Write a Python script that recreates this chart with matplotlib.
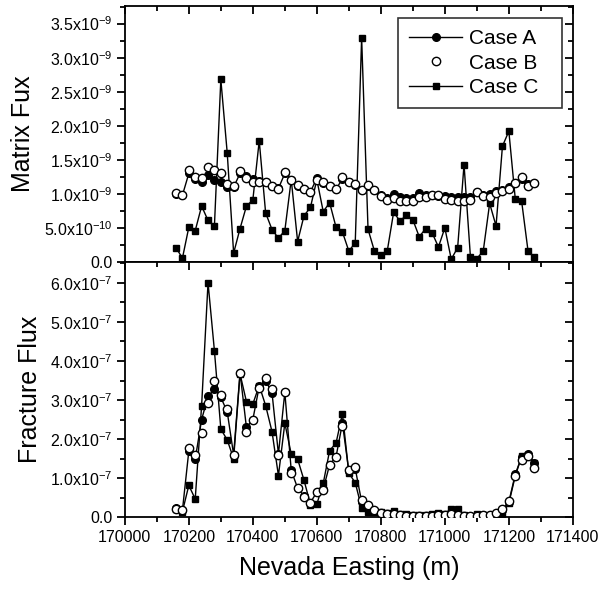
import matplotlib.pyplot as plt
from matplotlib.ticker import FixedLocator, MultipleLocator, FuncFormatter

plt.rcParams["font.family"] = ["Liberation Sans", "DejaVu Sans"]
plt.rcParams["mathtext.fontset"] = "custom"
plt.rcParams["mathtext.rm"] = "Liberation Sans"
plt.rcParams["mathtext.it"] = "Liberation Sans:italic"
plt.rcParams["mathtext.bf"] = "Liberation Sans:bold"

# Easting of each sample point (m)
easting = [
    170160, 170180, 170200, 170220, 170240, 170260, 170280, 170300, 170320, 170340,
    170360, 170380, 170400, 170420, 170440, 170460, 170480, 170500, 170520, 170540,
    170560, 170580, 170600, 170620, 170640, 170660, 170680, 170700, 170720, 170740,
    170760, 170780, 170800, 170820, 170840, 170860, 170880, 170900, 170920, 170940,
    170960, 170980, 171000, 171020, 171040, 171060, 171080, 171100, 171120, 171140,
    171160, 171180, 171200, 171220, 171240, 171260, 171280,
]

# Matrix flux, units of 1e-9
matrix_a = [
    1.00, 0.98, 1.30, 1.22, 1.17, 1.28, 1.21, 1.17, 1.10, 1.10,
    1.30, 1.26, 1.22, 1.19, 1.18, 1.12, 1.08, 1.30, 1.20, 1.12,
    1.07, 1.03, 1.23, 1.16, 1.11, 1.07, 1.22, 1.17, 1.13, 1.05,
    1.12, 1.06, 0.98, 0.94, 1.00, 0.95, 0.94, 0.94, 1.01, 0.98,
    0.98, 0.97, 0.97, 0.96, 0.95, 0.95, 0.96, 1.02, 0.98, 1.00,
    1.04, 1.06, 1.10, 1.16, 1.22, 1.14, 1.16,
]
matrix_b = [
    1.01, 0.99, 1.35, 1.25, 1.23, 1.40, 1.35, 1.30, 1.15, 1.11,
    1.34, 1.23, 1.18, 1.17, 1.17, 1.11, 1.07, 1.32, 1.21, 1.13,
    1.07, 1.03, 1.21, 1.17, 1.11, 1.07, 1.25, 1.18, 1.15, 1.05,
    1.13, 1.06, 0.97, 0.91, 0.94, 0.89, 0.89, 0.89, 0.95, 0.95,
    0.98, 0.98, 0.93, 0.91, 0.89, 0.89, 0.91, 1.03, 0.97, 0.96,
    1.01, 1.04, 1.07, 1.16, 1.25, 1.12, 1.16,
]
matrix_c = [
    0.21, 0.055, 0.51, 0.46, 0.82, 0.61, 0.53, 2.68, 1.60, 0.13,
    0.49, 0.82, 0.91, 1.78, 0.72, 0.475, 0.35, 0.46, 1.21, 0.30,
    0.68, 0.80, 1.21, 0.74, 0.87, 0.51, 0.44, 0.16, 0.28, 3.29,
    0.48, 0.16, 0.095, 0.16, 0.73, 0.60, 0.69, 0.62, 0.37, 0.49,
    0.43, 0.22, 0.50, 0.04, 0.21, 1.43, 0.07, 0.05, 0.16, 0.86,
    0.53, 1.70, 1.92, 0.93, 0.89, 0.16, 0.07,
]

# Fracture flux, units of 1e-7
fracture_a = [
    0.24, 0.18, 1.70, 1.49, 2.50, 3.10, 3.27, 3.07, 2.70, 1.60,
    3.70, 2.30, 2.50, 3.35, 3.50, 3.18, 1.62, 3.20, 1.20, 0.75,
    0.55, 0.38, 0.65, 0.72, 1.35, 1.55, 2.41, 1.18, 1.25, 0.40,
    0.30, 0.17, 0.12, 0.10, 0.08, 0.05, 0.04, 0.04, 0.03, 0.04,
    0.04, 0.05, 0.06, 0.08, 0.05, 0.03, 0.03, 0.04, 0.05, 0.05,
    0.10, 0.20, 0.40, 1.10, 1.55, 1.62, 1.38,
]
fracture_b = [
    0.22, 0.20, 1.77, 1.60, 2.17, 2.93, 3.50, 3.14, 2.76, 1.60,
    3.69, 2.19, 2.50, 3.30, 3.57, 3.27, 1.60, 3.20, 1.13, 0.75,
    0.53, 0.36, 0.66, 0.70, 1.33, 1.55, 2.34, 1.20, 1.30, 0.44,
    0.33, 0.18, 0.12, 0.10, 0.08, 0.05, 0.04, 0.04, 0.03, 0.04,
    0.04, 0.05, 0.06, 0.08, 0.05, 0.03, 0.03, 0.04, 0.05, 0.05,
    0.12, 0.22, 0.43, 1.06, 1.47, 1.56, 1.26,
]
fracture_c = [
    0.22, 0.15, 0.82, 0.47, 2.86, 6.00, 4.26, 2.26, 1.98, 1.50,
    3.67, 2.96, 2.90, 3.37, 2.86, 2.19, 1.07, 2.41, 1.62, 1.49,
    0.95, 0.33, 0.34, 0.87, 1.71, 1.90, 2.65, 1.13, 0.89, 0.24,
    0.13, 0.15, 0.15, 0.12, 0.17, 0.08, 0.08, 0.05, 0.06, 0.05,
    0.08, 0.12, 0.10, 0.22, 0.22, 0.05, 0.04, 0.10, 0.05, 0.04,
    0.04, 0.10, 0.36, 1.06, 1.56, 1.60, 1.40,
]

matrix_ticks = [0.0, 0.5, 1.0, 1.5, 2.0, 2.5, 3.0, 3.5]
matrix_labels = ["0.0", r"5.0x10$^{-10}$", r"1.0x10$^{-9}$", r"1.5x10$^{-9}$",
                 r"2.0x10$^{-9}$", r"2.5x10$^{-9}$", r"3.0x10$^{-9}$", r"3.5x10$^{-9}$"]
fracture_ticks = [0.0, 1.0, 2.0, 3.0, 4.0, 5.0, 6.0]
fracture_labels = ["0.0"] + [r"%d.0x10$^{-7}$" % v for v in range(1, 7)]
x_ticks = [170000, 170200, 170400, 170600, 170800, 171000, 171200, 171400]
case_names = ["Case A", "Case B", "Case C"]


def style_axis(ax):
    for side in ax.spines.values():
        side.set_linewidth(1.3)
    ax.tick_params(which="both", width=1.3, labelsize=11.5, pad=3)
    ax.tick_params(which="major", length=6)
    ax.tick_params(which="minor", length=3.5)
    # outward ticks on left/bottom, inward ticks on top/right
    ax.tick_params(which="both", direction="out", left=True, bottom=True,
                   right=True, top=True)
    for tick in ax.yaxis.get_major_ticks() + ax.yaxis.get_minor_ticks():
        tick.tick2line.set_marker(0)
    for tick in ax.xaxis.get_major_ticks() + ax.xaxis.get_minor_ticks():
        tick.tick2line.set_marker(3)


def draw_cases(ax, a, b, c, labels=(None, None, None)):
    ax.plot(easting, a, "-o", color="black", lw=1, ms=5.5, mfc="black",
            label=labels[0], zorder=3)
    ax.plot(easting, b, "o", color="black", ms=6, mfc="white", mew=1,
            label=labels[1], zorder=4)
    ax.plot(easting, c, "-s", color="black", lw=1, ms=5, mfc="black",
            label=labels[2], zorder=3)


fig = plt.figure(figsize=(6.03, 5.90), dpi=100)
ax1 = fig.add_axes([0.207, 0.556, 0.743, 0.434])
ax2 = fig.add_axes([0.207, 0.123, 0.743, 0.433], sharex=ax1)

# Matrix flux panel
draw_cases(ax1, matrix_a, matrix_b, matrix_c,
           [name + "  " for name in case_names])
ax1.set_ylim(0, 3.76)
ax1.yaxis.set_major_locator(FixedLocator(matrix_ticks))
ax1.set_yticklabels(matrix_labels)
ax1.yaxis.set_minor_locator(MultipleLocator(0.25))
ax1.set_ylabel("Matrix Fux", fontsize=18, labelpad=6)
ax1.tick_params(axis="x", labelbottom=False)

leg = ax1.legend(loc="upper right", bbox_to_anchor=(0.975, 0.953), fontsize=15,
                 frameon=True, fancybox=False, edgecolor="black",
                 handlelength=2.55, handletextpad=0.34, borderpad=0.55,
                 labelspacing=0.25, borderaxespad=0)
leg.get_frame().set_linewidth(1.2)

# Fracture flux panel
draw_cases(ax2, fracture_a, fracture_b, fracture_c)
ax2.set_ylim(0, 6.53)
ax2.yaxis.set_major_locator(FixedLocator(fracture_ticks))
ax2.set_yticklabels(fracture_labels)
ax2.yaxis.set_minor_locator(MultipleLocator(0.5))
ax2.set_ylabel("Fracture Flux", fontsize=18, labelpad=6)

ax2.set_xlim(170000, 171400)
ax2.xaxis.set_major_locator(FixedLocator(x_ticks))
ax2.xaxis.set_minor_locator(MultipleLocator(100))
ax2.xaxis.set_major_formatter(FuncFormatter(lambda v, p: "%d" % v))
ax2.set_xlabel("Nevada Easting (m)", fontsize=18, labelpad=8)

for ax in (ax1, ax2):
    style_axis(ax)

fig.savefig("out.png", dpi=100)
